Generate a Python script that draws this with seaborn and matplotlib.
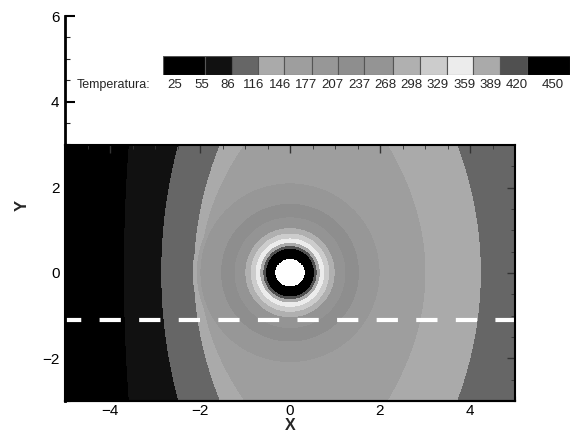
import numpy as np
import matplotlib
matplotlib.use("Agg")
import matplotlib.pyplot as plt
from matplotlib.ticker import MultipleLocator
import seaborn as sns

# contour levels of the legend and the gray of each band between two levels
levels = [25, 55, 86, 116, 146, 177, 207, 237, 268, 298, 329, 359, 389, 420, 450]
band_grays = ['#000000', '#111111', '#666666', '#aaaaaa', '#9e9e9e', '#979797', '#8e8e8e',
              '#949494', '#b0b0b0', '#cccccc', '#ececec', '#aaaaaa', '#505050', '#000000']

# far field: temperatures and the x where they are reached, on y=0 and on the y=+-3 edges
far_T = [30, 55, 86, 116, 146, 170, 146, 116, 100]
far_x_mid = [-5, -3.68, -2.85, -2.12, -1.98, 0.55, 3.0, 4.23, 5]
far_x_edge = [-5, -3.57, -2.47, -1.54, -1.0, 0.6, 2.15, 3.7, 5]

# rings round the cylinder: radius reached by each temperature
ring_r = [0.33, 0.52, 0.58, 0.65, 0.75, 0.86, 0.98, 1.22, 1.52, 1.98, 2.06, 2.2, 3.0]
ring_T = [450, 420, 389, 359, 329, 298, 268, 237, 207, 177, 146, 100, 25]
cyl_r = 0.33
cut_y = -1.1

# build the field on a grid
x = np.linspace(-5, 5, 901)
y = np.linspace(-3, 3, 541)
X, Y = np.meshgrid(x, y)
T = np.empty_like(X)
for j, yy in enumerate(y):
    w = (yy / 3) ** 2
    xs = np.array(far_x_mid) * (1 - w) + np.array(far_x_edge) * w
    T[j] = np.interp(x, xs, far_T)
R = np.hypot(X, Y / 1.05)
T = np.maximum(T, np.interp(R, ring_r, ring_T))
T = np.clip(T, 25.5, 449.5)
T[np.hypot(X, Y) < cyl_r] = np.nan

sns.set_theme(style="ticks")
plt.rcParams['font.family'] = ['Liberation Sans', 'DejaVu Sans']

W, H = 573, 434
fig = plt.figure(figsize=(W / 100, H / 100), dpi=100)
fig.patch.set_facecolor('white')

# main axes (x -5..5, y -3..6)
ax = fig.add_axes([65 / W, 1 - 401 / H, 450 / W, 385 / H])
ax.set_facecolor('white')
ax.contourf(X, Y, T, levels=levels, colors=band_grays)
sns.lineplot(x=[-5, 5], y=[cut_y, cut_y], ax=ax, color='white', lw=3,
             linestyle=(1.2, (5.1, 4.4)), legend=False)
ax.set_xlim(-5, 5)
ax.set_ylim(-3, 6)
ax.set_xticks([-4, -2, 0, 2, 4])
ax.set_yticks([-2, 0, 2, 4, 6])
ax.xaxis.set_minor_locator(MultipleLocator(0.5))
ax.yaxis.set_minor_locator(MultipleLocator(0.5))
ax.tick_params(which='major', direction='in', length=7, width=1.5, labelsize=11,
               pad=4, colors='black')
ax.tick_params(axis='x', which='major', pad=2)
ax.tick_params(which='minor', direction='in', length=3.5, width=0.8)
ax.spines['top'].set_visible(False)
ax.spines['right'].set_visible(False)
ax.spines['left'].set_linewidth(2)
ax.spines['bottom'].set_linewidth(1.5)
for s in ['left', 'bottom']:
    ax.spines[s].set_color('black')
ax.set_xlabel('X', fontsize=11.5, fontweight='bold', va='top')
ax.set_ylabel('Y', fontsize=12, fontweight='bold')
ax.xaxis.set_label_coords(0.5, -0.045)
ax.yaxis.set_label_coords(-0.078, 0.509)

# frame round the data region, ticks on top and right
ax2 = fig.add_axes([65 / W, 1 - 401 / H, 450 / W, 256 / H])
ax2.set_facecolor('none')
ax2.set_xlim(-5, 5)
ax2.set_ylim(-3, 3)
ax2.set_xticks([-4, -2, 0, 2, 4])
ax2.set_yticks([-2, 0, 2])
ax2.xaxis.set_minor_locator(MultipleLocator(0.5))
ax2.yaxis.set_minor_locator(MultipleLocator(0.5))
ax2.tick_params(which='both', direction='in', bottom=False, left=False, top=True, right=True,
                labelbottom=False, labelleft=False, colors='#333333')
ax2.tick_params(which='major', length=6, width=1)
ax2.tick_params(which='minor', length=3, width=0.6)
for s in ax2.spines.values():
    s.set_linewidth(1.5)
    s.set_color('black')

# legend bar
edges = np.array([163, 205, 232, 258, 284, 312, 338, 364, 393, 420, 447, 473, 500, 527, 570])
label_px = [175 + 26.3 * i for i in range(14)] + [553]
lax = fig.add_axes([163 / W, 1 - 75 / H, 407 / W, 19 / H])
lax.bar(edges[:-1], 1, width=np.diff(edges), align='edge', color=band_grays,
        edgecolor='#555555', linewidth=0.8)
lax.set_xlim(edges[0], edges[-1])
lax.set_ylim(0, 1)
lax.axis('off')
fig.text(77 / W, 1 - 85 / H, 'Temperatura:', ha='left', va='center', fontsize=9)
for lev, px in zip(levels, label_px):
    fig.text(px / W, 1 - 85 / H, str(lev), ha='center', va='center', fontsize=9.5)

fig.savefig('out.png', dpi=100)
